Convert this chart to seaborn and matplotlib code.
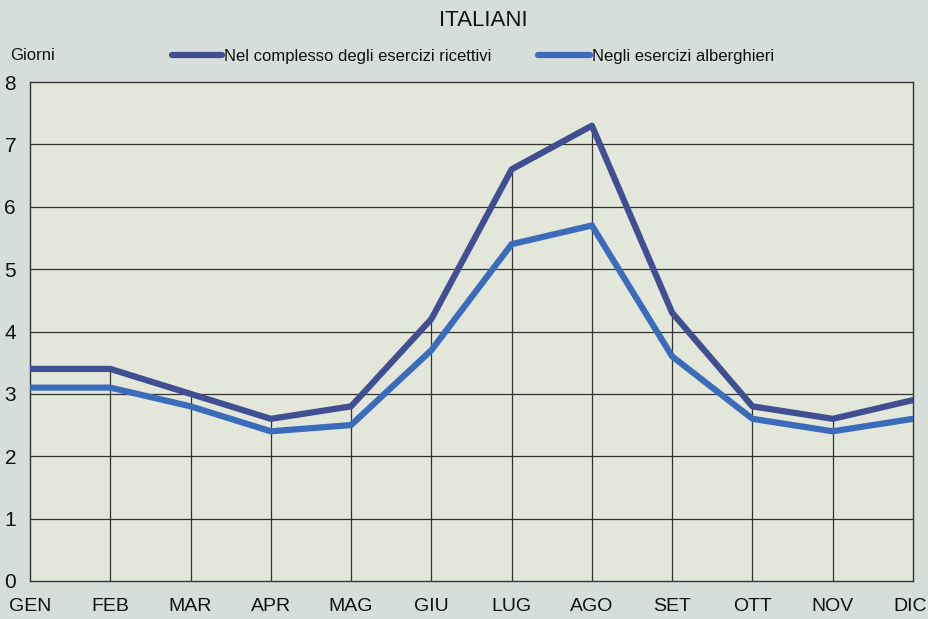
import matplotlib
matplotlib.use("Agg")
import matplotlib.pyplot as plt
import matplotlib.transforms as mtransforms
import seaborn as sns
import pandas as pd
import numpy as np

months = ["GEN", "FEB", "MAR", "APR", "MAG", "GIU", "LUG", "AGO", "SET", "OTT", "NOV", "DIC"]
complesso = [3.4, 3.4, 3.0, 2.6, 2.8, 4.2, 6.6, 7.3, 4.3, 2.8, 2.6, 2.9]
alberghieri = [3.1, 3.1, 2.8, 2.4, 2.5, 3.7, 5.4, 5.7, 3.6, 2.6, 2.4, 2.6]
yticks = [0, 1, 2, 3, 4, 5, 6, 7, 8]
label_complesso = "Nel complesso degli esercizi ricettivi"
label_alberghieri = "Negli esercizi alberghieri"

sns.set_theme(style="white")
plt.rcParams["font.family"] = ["Liberation Sans", "DejaVu Sans"]

fig = plt.figure(figsize=(9.29, 6.19), dpi=100)
fig.patch.set_facecolor("#d6ded9")
ax = fig.add_axes([30 / 929, 1 - 581 / 619, (913 - 30) / 929, (581 - 82) / 619])
ax.set_facecolor("#e3e7d9")

x = np.arange(len(months))
df = pd.DataFrame({"x": np.concatenate([x, x]),
                   "v": complesso + alberghieri,
                   "s": [label_complesso] * len(x) + [label_alberghieri] * len(x)})

# gridlines and drop lines
for yv in yticks[1:-1]:
    ax.axhline(yv, color="#333333", lw=0.9, zorder=1)
ax.vlines(x[1:-1], 0, np.array(complesso[1:-1]), color="#333333", lw=0.9, zorder=1)

palette = {label_complesso: "#3f4f92", label_alberghieri: "#3b6cbc"}
sns.lineplot(data=df, x="x", y="v", hue="s", palette=palette, lw=4.5, ax=ax,
             legend=False, zorder=3)

ax.set_xlim(0, len(months) - 1)
ax.set_ylim(0, 8)
ax.set_xticks(x)
ax.set_xticklabels(months, fontsize=14)
ax.set_yticks(yticks)
ax.set_yticklabels([str(v) for v in yticks], fontsize=15)
ax.tick_params(axis="both", length=0, colors="#111111")
ax.tick_params(axis="x", pad=12)
ax.tick_params(axis="y", pad=10)
ax.set_xlabel("")
ax.set_ylabel("")
last = ax.get_xticklabels()[-1]
last.set_transform(last.get_transform() + mtransforms.ScaledTranslation(-3 / 100, 0, fig.dpi_scale_trans))
for sp in ax.spines.values():
    sp.set_visible(True)
    sp.set_color("#333333")
    sp.set_linewidth(1.0)

fig.text(483 / 929, 1 - 20 / 619, "ITALIANI", ha="center", va="center", fontsize=16, color="#111111")
fig.text(10 / 929, 1 - 56 / 619, "Giorni", ha="left", va="center", fontsize=12, color="#111111")

# legend entries
for (x0, x1, tx, lab) in [(172, 222, 224, label_complesso), (538, 590, 592, label_alberghieri)]:
    fig.add_artist(plt.Line2D([x0 / 929, x1 / 929], [1 - 55 / 619, 1 - 55 / 619],
                              color=palette[lab], lw=4.5, solid_capstyle="round"))
    fig.text(tx / 929, 1 - 56 / 619, lab, ha="left", va="center", fontsize=12, color="#111111")

fig.savefig("out.png", dpi=100, facecolor=fig.get_facecolor())
